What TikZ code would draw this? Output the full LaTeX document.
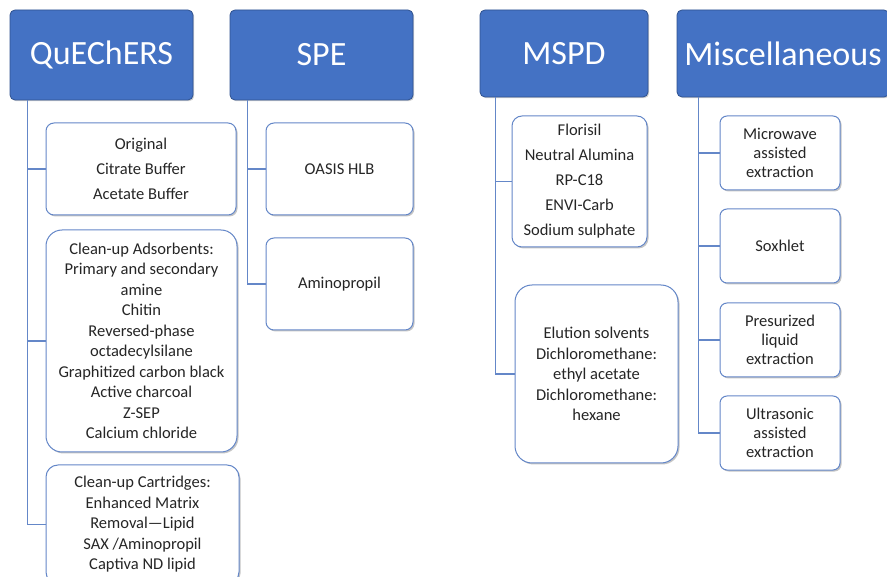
\documentclass[tikz,border=0pt]{standalone}
\usepackage{fontspec}
\setmainfont{Carlito}
\usetikzlibrary{shadows}
\definecolor{hdrblue}{RGB}{68,114,196}
\definecolor{hdrline}{RGB}{47,82,143}
\definecolor{itemline}{RGB}{100,135,200}
\definecolor{txtgray}{RGB}{38,38,38}
\tikzset{
	hdr/.style={draw=hdrline, fill=hdrblue, text=white, rounded corners=5pt, line width=0.8pt,
		inner sep=0pt, font=\fontsize{34}{40}\selectfont,
		drop shadow={shadow xshift=1.2pt, shadow yshift=-1.2pt, opacity=0.35}},
	item/.style={draw=itemline, fill=white, text=txtgray, line width=1pt, align=center,
		inner sep=0pt, font=\fontsize{16.5}{20.5}\selectfont,
		drop shadow={shadow xshift=1.5pt, shadow yshift=-1.5pt, opacity=0.45}},
	link/.style={draw=itemline, line width=1.2pt}
}
\begin{document}
\begin{tikzpicture}[x=1pt, y=-1pt]
		\clip (0,0) rectangle (887,577);
		\fill[white] (0,0) rectangle (887,577);
		% headers
		\node[hdr, minimum width=183pt, minimum height=90pt] (qh) at (101.5,55) {QuEChERS};
		\node[hdr, minimum width=183pt, minimum height=90pt] (sh) at (321.5,55) {SPE};
		\node[hdr, minimum width=168pt, minimum height=87pt] (mh) at (564,53.5) {MSPD};
		\node[hdr, minimum width=212pt, minimum height=87pt] (xh) at (783,53.5) {Miscellaneous};
		% QuEChERS
		\node[item, rounded corners=8pt, minimum width=190pt, minimum height=92pt,
			font=\fontsize{16.5}{25}\selectfont] (q1) at (141,169)
			{Original\\Citrate Buffer\\Acetate Buffer};
		\node[item, rounded corners=16pt, minimum width=191pt, minimum height=222pt] (q2) at (141.5,341)
			{Clean-up Adsorbents:\\Primary and secondary\\amine\\Chitin\\Reversed-phase\\octadecylsilane\\Graphitized carbon black\\Active charcoal\\Z-SEP\\Calcium chloride};
		\node[item, rounded corners=12pt, minimum width=193pt, minimum height=119pt] (q3) at (142.5,524.5)
			{Clean-up Cartridges:\\Enhanced Matrix\\Removal---Lipid\\SAX /Aminopropil\\Captiva ND lipid};
		% SPE
		\node[item, rounded corners=8pt, minimum width=147pt, minimum height=92pt] (s1) at (339.5,169) {OASIS HLB};
		\node[item, rounded corners=8pt, minimum width=147pt, minimum height=92pt] (s2) at (339.5,284) {Aminopropil};
		% MSPD
		\node[item, rounded corners=10pt, minimum width=135pt, minimum height=131pt,
			font=\fontsize{16.5}{25}\selectfont] (m1) at (579.5,181.5)
			{Florisil\\Neutral Alumina\\RP-C18\\ENVI-Carb\\Sodium sulphate};
		\node[item, rounded corners=17pt, minimum width=163pt, minimum height=178pt] (m2) at (596.5,374)
			{Elution solvents\\Dichloromethane:\\ethyl acetate\\Dichloromethane:\\hexane};
		% Miscellaneous
		\foreach \n/\y/\t in {1/153/{Microwave\\assisted\\extraction}, 2/246/{Soxhlet},
			3/340/{Presurized\\liquid\\extraction}, 4/433/{Ultrasonic\\assisted\\extraction}}
		{
			\node[item, rounded corners=7pt, minimum width=120pt, minimum height=74pt,
				font=\fontsize{16.5}{18.7}\selectfont] (x\n) at (780,\y) {\t};
		}
		% connectors
		\foreach \b in {q1,q2,q3}
			\draw[link] ([xshift=18pt]qh.south west) |- (\b.west);
		\foreach \b in {s1,s2}
			\draw[link] ([xshift=18pt]sh.south west) |- (\b.west);
		\foreach \b in {m1,m2}
			\draw[link] ([xshift=16pt]mh.south west) |- (\b.west);
		\foreach \b in {x1,x2,x3,x4}
			\draw[link] ([xshift=22pt]xh.south west) |- (\b.west);
\end{tikzpicture}
\end{document}
